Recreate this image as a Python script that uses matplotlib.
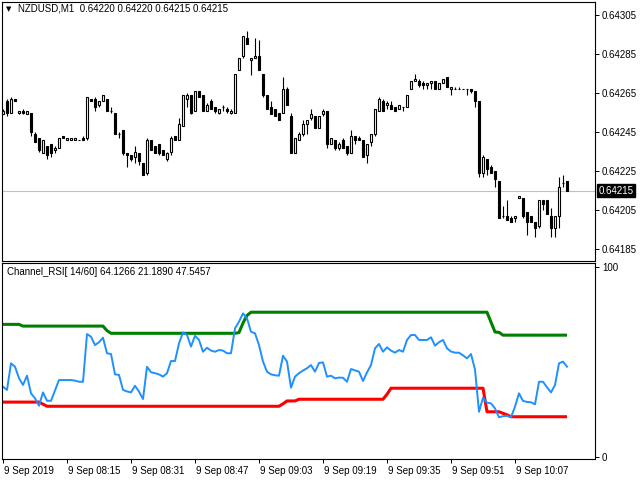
import matplotlib
matplotlib.use("Agg")
import numpy as np
import matplotlib.pyplot as plt
import matplotlib.transforms as mtransforms

plt.rcParams['font.family'] = ['Liberation Sans', 'DejaVu Sans']

# - data: NZDUSD M1 bars, prices in points (price * 100000)
opens = [64254, 64261, 64255, 64262, 64255, 64256, 64254, 64255, 64244, 64242,
         64234, 64238, 64239, 64236, 64237, 64243, 64241, 64241, 64241, 64241,
         64242, 64242, 64262, 64262, 64259, 64261, 64262, 64256, 64255, 64244,
         64246, 64234, 64233, 64232, 64234, 64229, 64224, 64241, 64238, 64239,
         64236, 64231, 64235, 64243, 64241, 64248, 64262, 64264, 64256, 64266,
         64264, 64256, 64261, 64258, 64255, 64258, 64257, 64255, 64255, 64277,
         64284, 64293, 64282, 64283, 64284, 64275, 64264, 64258, 64257, 64255,
         64255, 64267, 64253, 64234, 64241, 64244, 64249, 64252, 64253, 64247,
         64254, 64256, 64239, 64241, 64237, 64241, 64238, 64234, 64243, 64242,
         64241, 64233, 64240, 64244, 64256, 64261, 64259, 64259, 64258, 64257,
         64258, 64258, 64267, 64271, 64271, 64270, 64269, 64270, 64271, 64267,
         64270, 64273, 64267, 64267, 64267, 64267, 64267, 64267, 64266, 64261,
         64224, 64231, 64227, 64225, 64220, 64202, 64202, 64201, 64201, 64211,
         64211, 64204, 64202, 64199, 64197, 64210, 64210, 64202, 64196, 64202,
         64219, 64220]
highs = [64257, 64262, 64263, 64262, 64256, 64257, 64256, 64255, 64245, 64242,
         64241, 64238, 64239, 64238, 64242, 64243, 64242, 64242, 64242, 64241,
         64243, 64263, 64262, 64263, 64261, 64264, 64262, 64258, 64255, 64245,
         64246, 64234, 64233, 64238, 64234, 64229, 64242, 64241, 64238, 64239,
         64236, 64235, 64243, 64243, 64252, 64264, 64265, 64264, 64266, 64266,
         64264, 64260, 64262, 64258, 64257, 64259, 64258, 64257, 64275, 64283,
         64294, 64297, 64283, 64293, 64292, 64275, 64264, 64261, 64257, 64255,
         64273, 64268, 64255, 64242, 64245, 64251, 64251, 64257, 64253, 64253,
         64257, 64256, 64242, 64241, 64240, 64242, 64238, 64246, 64243, 64243,
         64241, 64239, 64244, 64257, 64263, 64262, 64261, 64261, 64258, 64259,
         64258, 64264, 64271, 64275, 64272, 64271, 64270, 64271, 64271, 64270,
         64272, 64273, 64268, 64268, 64268, 64267, 64267, 64267, 64266, 64261,
         64233, 64231, 64228, 64225, 64220, 64207, 64210, 64202, 64202, 64212,
         64211, 64204, 64202, 64199, 64210, 64210, 64210, 64206, 64202, 64222,
         64223, 64220]
lows = [64254, 64253, 64255, 64261, 64254, 64254, 64254, 64243, 64240, 64235,
        64234, 64231, 64232, 64234, 64237, 64242, 64241, 64241, 64241, 64241,
        64241, 64241, 64261, 64256, 64258, 64261, 64256, 64255, 64244, 64242,
        64233, 64227, 64230, 64229, 64228, 64223, 64223, 64236, 64234, 64233,
        64233, 64230, 64233, 64241, 64241, 64248, 64258, 64254, 64256, 64263,
        64256, 64256, 64257, 64255, 64254, 64256, 64255, 64254, 64255, 64277,
        64283, 64290, 64274, 64283, 64277, 64263, 64257, 64254, 64253, 64251,
        64255, 64259, 64234, 64234, 64241, 64243, 64244, 64251, 64247, 64247,
        64253, 64237, 64239, 64236, 64236, 64237, 64233, 64234, 64239, 64241,
        64232, 64229, 64238, 64243, 64256, 64256, 64257, 64257, 64256, 64257,
        64256, 64258, 64267, 64271, 64268, 64267, 64267, 64267, 64267, 64267,
        64270, 64268, 64264, 64267, 64267, 64267, 64264, 64265, 64258, 64222,
        64222, 64223, 64224, 64217, 64201, 64201, 64200, 64199, 64199, 64211,
        64201, 64192, 64199, 64191, 64196, 64205, 64203, 64191, 64191, 64196,
        64217, 64215]
closes = [64256, 64255, 64262, 64261, 64256, 64255, 64256, 64245, 64240, 64236,
          64241, 64233, 64234, 64237, 64242, 64242, 64242, 64242, 64242, 64241,
          64241, 64263, 64261, 64258, 64261, 64264, 64256, 64256, 64244, 64244,
          64234, 64233, 64231, 64235, 64230, 64223, 64241, 64236, 64234, 64234,
          64233, 64234, 64242, 64241, 64249, 64264, 64264, 64255, 64266, 64263,
          64256, 64259, 64257, 64256, 64257, 64258, 64256, 64256, 64275, 64283,
          64294, 64290, 64283, 64284, 64277, 64264, 64257, 64254, 64253, 64251,
          64267, 64259, 64234, 64242, 64244, 64249, 64251, 64254, 64247, 64253,
          64256, 64239, 64242, 64237, 64239, 64237, 64234, 64243, 64241, 64241,
          64232, 64239, 64244, 64257, 64262, 64256, 64260, 64257, 64256, 64259,
          64258, 64264, 64271, 64272, 64269, 64269, 64270, 64271, 64267, 64270,
          64272, 64268, 64268, 64267, 64267, 64267, 64267, 64266, 64261, 64224,
          64232, 64226, 64224, 64221, 64201, 64202, 64200, 64199, 64202, 64212,
          64202, 64199, 64199, 64196, 64210, 64208, 64203, 64196, 64202, 64217,
          64219, 64215]

# - Channel_RSI(14/60): rsi line, upper and lower channel
rsi = [37.0, 35.3, 49.3, 47.5, 41.5, 37.9, 42.8, 33.5, 30.9, 27.0,
       34.0, 29.6, 29.6, 35.0, 40.5, 40.5, 40.5, 40.5, 40.2, 39.6,
       39.6, 64.7, 63.3, 58.9, 60.4, 62.8, 54.6, 54.2, 43.5, 43.2,
       35.3, 34.5, 34.0, 37.5, 34.4, 30.5, 47.5, 44.6, 44.1, 43.5,
       42.3, 44.1, 50.5, 50.5, 59.8, 65.6, 64.2, 58.1, 63.8, 61.6,
       55.4, 57.5, 56.0, 55.4, 56.3, 56.0, 54.6, 54.6, 67.7, 71.2,
       75.6, 73.0, 65.9, 65.1, 58.9, 50.2, 44.9, 43.5, 43.0, 42.8,
       53.3, 50.2, 36.5, 42.3, 44.1, 45.5, 46.7, 48.4, 44.9, 49.5,
       49.8, 42.3, 42.8, 41.4, 41.8, 41.7, 39.6, 46.3, 45.6, 44.9,
       40.0, 44.5, 48.4, 57.2, 59.5, 55.4, 57.7, 56.0, 54.9, 56.3,
       55.4, 61.6, 64.2, 64.2, 61.6, 61.6, 61.6, 63.0, 58.6, 60.4,
       61.6, 57.2, 55.5, 54.9, 54.9, 53.5, 51.9, 54.2, 46.0, 23.8,
       31.2, 28.6, 28.2, 25.6, 20.9, 21.5, 21.7, 20.9, 26.5, 33.5,
       29.5, 29.0, 28.8, 27.7, 39.6, 39.6, 36.7, 34.0, 37.9, 49.3,
       50.2, 47.5457]
upper = [69.8, 69.8, 69.8, 69.8, 69.8, 68.9, 68.9, 68.9, 68.9, 68.9,
         68.9, 68.9, 68.9, 68.9, 68.9, 68.9, 68.9, 68.9, 68.9, 68.9,
         68.9, 68.9, 68.9, 68.9, 68.9, 68.9, 66.5, 65.1, 65.1, 65.1,
         65.1, 65.1, 65.1, 65.1, 65.1, 65.1, 65.1, 65.1, 65.1, 65.1,
         65.1, 65.1, 65.1, 65.1, 65.1, 65.1, 65.1, 65.1, 65.1, 65.1,
         65.1, 65.1, 65.1, 65.1, 65.1, 65.1, 65.1, 65.1, 65.1, 65.5,
         70.5, 74.5, 76.2, 76.2, 76.2, 76.2, 76.2, 76.2, 76.2, 76.2,
         76.2, 76.2, 76.2, 76.2, 76.2, 76.2, 76.2, 76.2, 76.2, 76.2,
         76.2, 76.2, 76.2, 76.2, 76.2, 76.2, 76.2, 76.2, 76.2, 76.2,
         76.2, 76.2, 76.2, 76.2, 76.2, 76.2, 76.2, 76.2, 76.2, 76.2,
         76.2, 76.2, 76.2, 76.2, 76.2, 76.2, 76.2, 76.2, 76.2, 76.2,
         76.2, 76.2, 76.2, 76.2, 76.2, 76.2, 76.2, 76.2, 76.2, 76.2,
         76.2, 76.2, 71.0, 65.8, 65.6, 64.13, 64.13, 64.13, 64.13, 64.13,
         64.13, 64.13, 64.13, 64.13, 64.13, 64.13, 64.13, 64.13, 64.13, 64.13,
         64.13, 64.1266]
lower = [28.9, 28.9, 28.9, 28.9, 28.9, 28.9, 28.9, 28.9, 28.9, 28.9,
         27.8, 26.7, 26.7, 26.7, 26.7, 26.7, 26.7, 26.7, 26.7, 26.7,
         26.7, 26.7, 26.7, 26.7, 26.7, 26.7, 26.7, 26.7, 26.7, 26.7,
         26.7, 26.7, 26.7, 26.7, 26.7, 26.7, 26.7, 26.7, 26.7, 26.7,
         26.7, 26.7, 26.7, 26.7, 26.7, 26.7, 26.7, 26.7, 26.7, 26.7,
         26.7, 26.7, 26.7, 26.7, 26.7, 26.7, 26.7, 26.7, 26.7, 26.7,
         26.7, 26.7, 26.7, 26.7, 26.7, 26.7, 26.7, 26.7, 26.7, 26.7,
         28.0, 29.5, 29.5, 29.5, 30.4, 30.4, 30.4, 30.4, 30.4, 30.4,
         30.4, 30.4, 30.4, 30.4, 30.4, 30.4, 30.4, 30.4, 30.4, 30.4,
         30.4, 30.4, 30.4, 30.4, 30.4, 30.4, 33.0, 36.2, 36.2, 36.2,
         36.2, 36.2, 36.2, 36.2, 36.2, 36.2, 36.2, 36.2, 36.2, 36.2,
         36.2, 36.2, 36.2, 36.2, 36.2, 36.2, 36.2, 36.2, 36.2, 36.2,
         36.2, 23.8, 23.8, 23.8, 23.8, 23.0, 22.2, 21.189, 21.189, 21.189,
         21.189, 21.189, 21.189, 21.189, 21.189, 21.189, 21.189, 21.189, 21.189, 21.189,
         21.189, 21.189]

time_labels = ["9 Sep 2019", "9 Sep 08:15", "9 Sep 08:31", "9 Sep 08:47", "9 Sep 09:03",
               "9 Sep 09:19", "9 Sep 09:35", "9 Sep 09:51", "9 Sep 10:07"]
price_ticks = [64305, 64285, 64265, 64245, 64225, 64205, 64185]
bid = 64215

o = np.array(opens) / 1e5
h = np.array(highs) / 1e5
l = np.array(lows) / 1e5
c = np.array(closes) / 1e5
x = np.arange(len(opens))

W, H = 640, 480
fig = plt.figure(figsize=(6.4, 4.8), dpi=100)
ax1 = fig.add_axes([2 / W, 1 - 261 / H, 593 / W, 259 / H])
ax2 = fig.add_axes([2 / W, 1 - 459 / H, 593 / W, 196 / H])

# - price panel
ax1.axhline(bid / 1e5, color="#C0C0C0", linewidth=0.8, zorder=1)
ax1.vlines(x, l, h, color="black", linewidth=0.8, zorder=2)
bull = c >= o
ax1.bar(x, c - o, bottom=o, width=0.5, color=np.where(bull, "white", "black"),
        edgecolor="black", linewidth=0.8, zorder=3)
ax1.set_xlim(-0.25, 148)
ax1.set_ylim(0.6417885, 0.6431167)
ax1.set_xticks([])
ax1.yaxis.tick_right()
ax1.set_yticks(np.array(price_ticks) / 1e5)
ax1.set_yticklabels(["%.5f" % (p / 1e5) for p in price_ticks])
ax1.tick_params(axis="y", direction="out", length=3, width=0.7, pad=2, labelsize=7)
ax1.text(0.0107, 0.974, "\u25bc", transform=ax1.transAxes, fontsize=5,
         family="DejaVu Sans", va="center", ha="center")
ax1.text(0.027, 0.974, "NZDUSD,M1  0.64220 0.64220 0.64215 0.64215",
         transform=ax1.transAxes, fontsize=7, va="center", ha="left")
trans = mtransforms.blended_transform_factory(ax1.transAxes, ax1.transData)
ax1.text(1.006, bid / 1e5, "%.5f" % (bid / 1e5), transform=trans, fontsize=7,
         color="white", va="center", ha="left",
         bbox=dict(boxstyle="square,pad=0.15", facecolor="black", edgecolor="black"))

# - indicator panel
ax2.plot(x, upper, color="#008000", linewidth=2.2, solid_capstyle="butt")
ax2.plot(x, lower, color="#FF0000", linewidth=2.2, solid_capstyle="butt")
ax2.plot(x, rsi, color="#1E90FF", linewidth=1.4)
ax2.set_xlim(-0.25, 148)
ax2.set_ylim(-1.05, 102.1)
ax2.yaxis.tick_right()
ax2.set_yticks([0, 100])
ax2.set_yticklabels(["0", "100"])
ax2.tick_params(axis="y", direction="out", length=3, width=0.7, pad=2, labelsize=7)
ax2.set_xticks(x[::16])
ax2.set_xticklabels(time_labels, ha="left")
ax2.tick_params(axis="x", direction="out", length=3, width=0.7, pad=2, labelsize=7)
for lab in ax2.get_xticklabels():
    lab.set_transform(lab.get_transform() + mtransforms.ScaledTranslation(1 / 100, 0, fig.dpi_scale_trans))
ax2.text(0.0084, 0.955, "Channel_RSI[ 14/60] 64.1266 21.1890 47.5457",
         transform=ax2.transAxes, fontsize=7, va="center", ha="left")

for ax in (ax1, ax2):
    for s in ax.spines.values():
        s.set_linewidth(0.8)

plt.savefig("out.png", dpi=100)
